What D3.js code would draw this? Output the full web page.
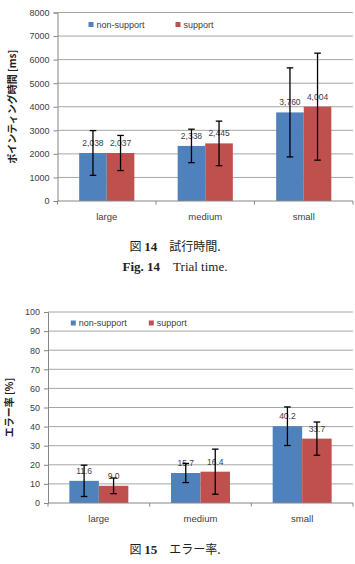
<!DOCTYPE html>
<html>
<head>
<meta charset="utf-8">
<script src="https://cdn.jsdelivr.net/npm/d3@7"></script>
<style>
  body { margin: 0; background: #fff; }
  svg { display: block; }
  .tick-label, .cat-label, .legend-label, .val-label { font-family: "Liberation Sans", Arial, sans-serif; fill: #404040; }
  .ytitle { font-family: "Noto Sans CJK JP", sans-serif; font-weight: bold; fill: #202020; }
  .cap { font-family: "Liberation Serif", "Noto Sans CJK JP", serif; fill: #222; }
  .cap-jp { font-family: "Noto Sans CJK JP", sans-serif; }
</style>
</head>
<body>
<svg id="page" width="355" height="564"></svg>
<script>
// categories and series
var categories = ["large", "medium", "small"];
var seriesNames = ["non-support", "support"];
var seriesColors = ["#4f81bd", "#c0504d"];

// Fig. 14 trial time [ms]
var timeNonSupport = [2038, 2338, 3760];
var timeSupport = [2037, 2445, 4004];
var timeNonSupportErr = [950, 710, 1890];
var timeSupportErr = [745, 945, 2270];
var timeTicks = [0, 1000, 2000, 3000, 4000, 5000, 6000, 7000, 8000];

// Fig. 15 error rate [%]
var errNonSupport = [11.6, 15.7, 40.2];
var errSupport = [9.0, 16.4, 33.7];
var errNonSupportErr = [8.2, 5.0, 10.1];
var errSupportErr = [4.1, 11.8, 8.7];
var errTicks = [0, 10, 20, 30, 40, 50, 60, 70, 80, 90, 100];

var svg = d3.select("#page");

function drawChart(cfg) {
  var g = svg.append("g");
  var x0 = d3.scaleBand().domain(categories).range([cfg.left, cfg.right]);
  var step = x0.step();
  var x1 = d3.scaleBand().domain(seriesNames)
    .range([step * cfg.gap, step * (1 - cfg.gap)]);
  var y = d3.scaleLinear().domain([0, cfg.yMax]).range([cfg.bottom, cfg.top]);

  // gridlines
  g.selectAll(".grid").data(cfg.ticks.slice(1)).enter().append("line")
    .attr("x1", cfg.left).attr("x2", cfg.right)
    .attr("y1", d => y(d)).attr("y2", d => y(d))
    .attr("stroke", "#a6a6a6").attr("stroke-width", 1);

  // y axis
  var yAxis = d3.axisLeft(y).tickValues(cfg.ticks).tickFormat(d3.format("d")).tickSize(4).tickPadding(4);
  var ya = g.append("g").attr("transform", "translate(" + cfg.left + ",0)").call(yAxis);
  ya.select(".domain").attr("stroke", "#868686");
  ya.selectAll(".tick line").attr("stroke", "#868686");
  ya.selectAll("text").attr("class", "tick-label").attr("font-size", 9).attr("fill", "#404040");

  // bars
  var rows = categories.map((c, i) => ({cat: c, vals: cfg.series.map((s, j) => ({name: seriesNames[j], v: s[i], e: cfg.errs[j][i], color: seriesColors[j]}))}));
  var grp = g.selectAll(".grp").data(rows).enter().append("g")
    .attr("transform", d => "translate(" + x0(d.cat) + ",0)");
  grp.selectAll("rect").data(d => d.vals).enter().append("rect")
    .attr("x", d => x1(d.name)).attr("width", x1.bandwidth())
    .attr("y", d => y(d.v)).attr("height", d => y(0) - y(d.v))
    .attr("fill", d => d.color);

  // value labels
  grp.selectAll(".val-label").data(d => d.vals).enter().append("text")
    .attr("class", "val-label")
    .attr("x", d => x1(d.name) + x1.bandwidth() / 2)
    .attr("y", d => y(d.v) - 7)
    .attr("text-anchor", "middle").attr("font-size", 8.5)
    .text(d => cfg.fmt(d.v));

  // error bars
  var eb = grp.selectAll(".err").data(d => d.vals).enter().append("g")
    .attr("stroke", "#000").attr("stroke-width", 1.3);
  eb.append("line")
    .attr("x1", d => x1(d.name) + x1.bandwidth() / 2).attr("x2", d => x1(d.name) + x1.bandwidth() / 2)
    .attr("y1", d => y(d.v + d.e)).attr("y2", d => y(d.v - d.e));
  [1, -1].forEach(function(sg) {
    eb.append("line")
      .attr("x1", d => x1(d.name) + x1.bandwidth() / 2 - 3.3).attr("x2", d => x1(d.name) + x1.bandwidth() / 2 + 3.3)
      .attr("y1", d => y(d.v + sg * d.e)).attr("y2", d => y(d.v + sg * d.e));
  });

  // x axis
  g.append("line").attr("x1", cfg.left).attr("x2", cfg.right)
    .attr("y1", y(0)).attr("y2", y(0)).attr("stroke", "#868686");
  g.selectAll(".xt").data(categories.concat(["end"])).enter().append("line")
    .attr("x1", (d, i) => cfg.left + i * step).attr("x2", (d, i) => cfg.left + i * step)
    .attr("y1", y(0)).attr("y2", y(0) + 3.5).attr("stroke", "#868686");
  g.selectAll(".cat-label").data(categories).enter().append("text")
    .attr("class", "cat-label")
    .attr("x", d => x0(d) + step / 2).attr("y", y(0) + 18.5)
    .attr("text-anchor", "middle").attr("font-size", 9.5)
    .text(d => d);

  // y title
  g.append("text").attr("class", "ytitle")
    .attr("transform", "translate(" + (cfg.titleX + 3.5) + "," + ((cfg.top + cfg.bottom) / 2) + ") rotate(-90)")
    .attr("text-anchor", "middle").attr("font-size", cfg.titleSize)
    .text(cfg.title);

  // legend
  var lg = g.selectAll(".lg").data(seriesNames).enter().append("g")
    .attr("transform", (d, i) => "translate(" + cfg.legendX[i] + "," + cfg.legendY + ")");
  lg.append("rect").attr("x", 0).attr("y", -2.5).attr("width", 5).attr("height", 5)
    .attr("fill", (d, i) => seriesColors[i]);
  lg.append("text").attr("class", "legend-label").attr("x", 8).attr("y", 3.3)
    .attr("font-size", 9).text(d => d);
}

drawChart({
  series: [timeNonSupport, timeSupport], errs: [timeNonSupportErr, timeSupportErr],
  ticks: timeTicks, yMax: 8000, fmt: d3.format(","),
  left: 57.5, right: 353, top: 12.5, bottom: 201, gap: 0.22,
  title: "ポインティング時間 [ms]", titleX: 12.5, titleSize: 10,
  legendX: [88.5, 175.5], legendY: 24.5
});

drawChart({
  series: [errNonSupport, errSupport], errs: [errNonSupportErr, errSupportErr],
  ticks: errTicks, yMax: 100, fmt: d3.format(".1f"),
  left: 48, right: 353, top: 312, bottom: 503, gap: 0.21,
  title: "エラー率 [%]", titleX: 9.5, titleSize: 10,
  legendX: [70.8, 148.8], legendY: 323
});

// captions
function caption(y, parts) {
  var t = svg.append("text").attr("class", "cap").attr("x", 175).attr("y", y)
    .attr("text-anchor", "middle").attr("font-size", 13);
  parts.forEach(function(p) {
    var s = t.append("tspan").text(p.t);
    if (p.b) s.attr("font-weight", "bold");
    if (p.jp) s.attr("class", "cap-jp").attr("font-size", 12);
  });
}
caption(251, [{t: "図 ", jp: true}, {t: "14", b: true}, {t: "\u2003試行時間.", jp: true}]);
caption(270.5, [{t: "Fig. 14", b: true}, {t: "\u2003Trial time."}]);
caption(553.5, [{t: "図 ", jp: true}, {t: "15", b: true}, {t: "\u2003エラー率.", jp: true}]);
</script>
</body>
</html>
